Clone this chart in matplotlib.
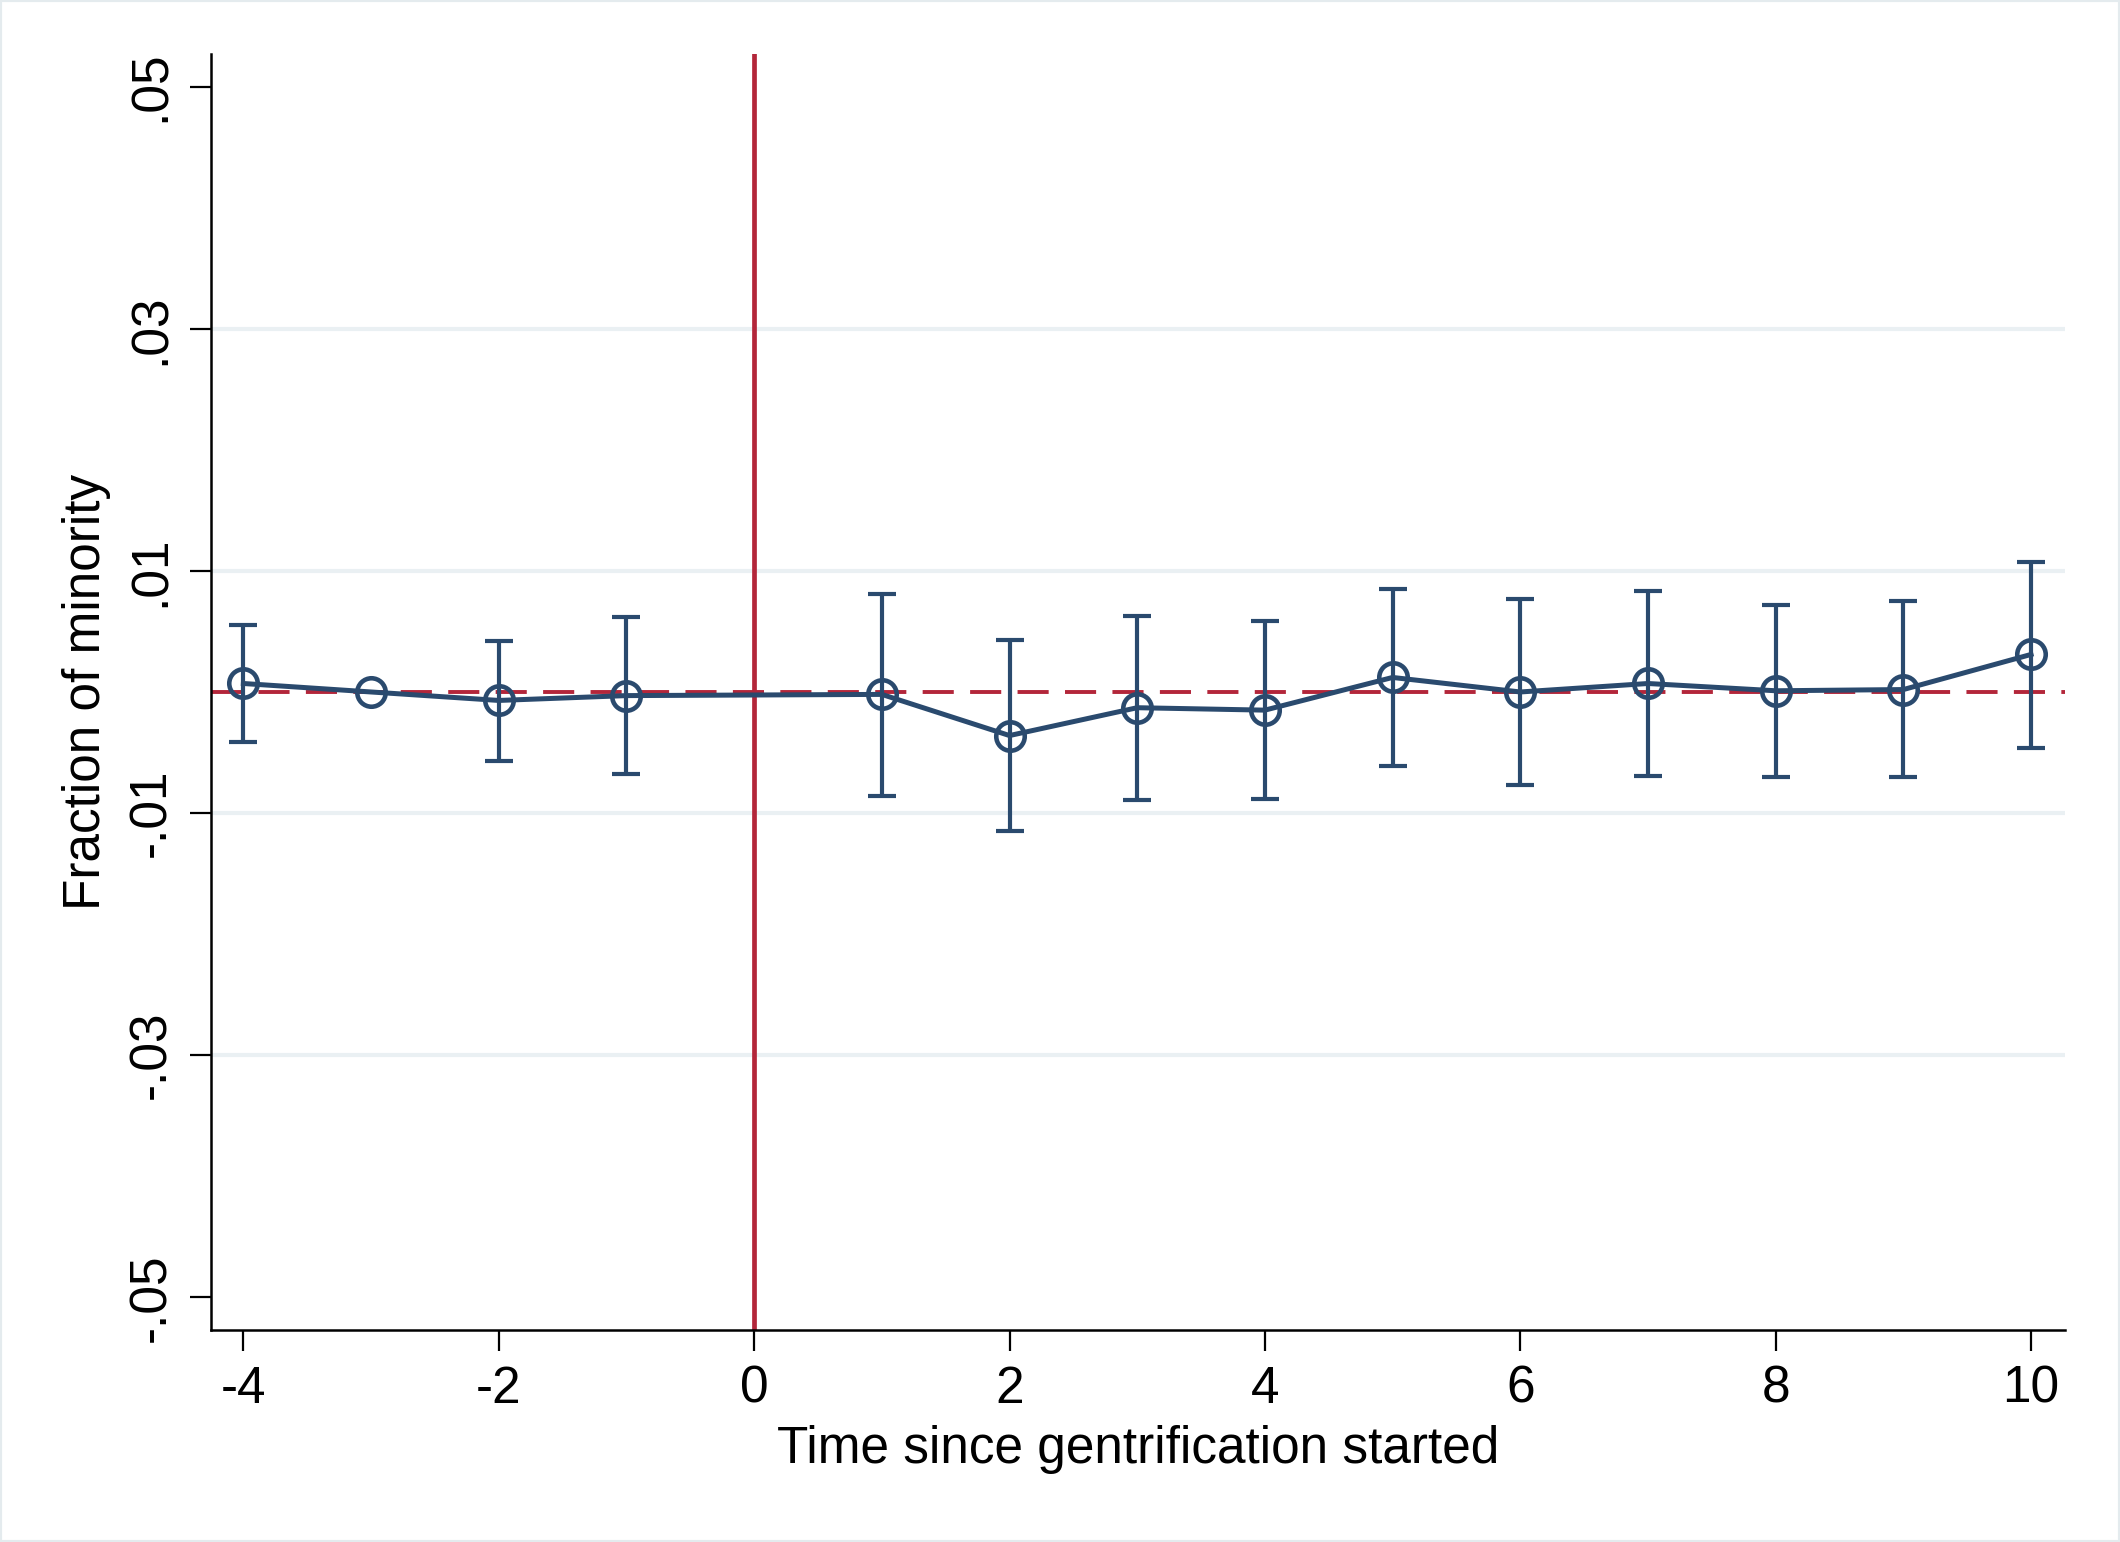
import numpy as np
import matplotlib
matplotlib.use("Agg")
import matplotlib.pyplot as plt
from matplotlib.patches import Rectangle

# event-study estimates
periods = [-4, -3, -2, -1, 1, 2, 3, 4, 5, 6, 7, 8, 9, 10]
coef = [0.0007, 0.0, -0.0007, -0.0003, -0.0002, -0.0036, -0.0013, -0.0015,
        0.0012, 0.0, 0.0007, 0.0001, 0.0002, 0.0031]
ci_low = [-0.0041, np.nan, -0.0057, -0.0068, -0.0086, -0.0115, -0.0089, -0.0088,
          -0.0061, -0.0077, -0.0069, -0.0070, -0.0070, -0.0046]
ci_high = [0.0055, np.nan, 0.0042, 0.0062, 0.0081, 0.0043, 0.0063, 0.0059,
           0.0085, 0.0077, 0.0083, 0.0072, 0.0075, 0.0107]

xticks = [-4, -2, 0, 2, 4, 6, 8, 10]
yticks = [-0.05, -0.03, -0.01, 0.01, 0.03, 0.05]
ytick_labels = ["-.05", "-.03", "-.01", ".01", ".03", ".05"]
grid_levels = [-0.03, -0.01, 0.01, 0.03]

NAVY = "#2a4a6e"
RED = "#b3263a"
GRID = "#eaf0f3"

plt.rcParams["font.family"] = ["Liberation Sans", "DejaVu Sans"]

fig = plt.figure(figsize=(21.2, 15.42), dpi=100)
fig.patches.append(Rectangle((0, 0), 1, 1, transform=fig.transFigure, fill=False,
                             edgecolor="#e4ebee", linewidth=3))
ax = fig.add_axes([0.0995, 0.1375, 0.8745, 0.8275])

for g in grid_levels:
    ax.axhline(g, color=GRID, linewidth=3, zorder=0)

ax.axhline(0, color=RED, linewidth=2.8, dashes=(8, 4.2), zorder=1)
ax.axvline(0, color=RED, linewidth=3.4, zorder=1.5)

x = np.array(periods, dtype=float)
y = np.array(coef)
lo = np.array(ci_low)
hi = np.array(ci_high)
has_ci = ~np.isnan(lo)

ax.errorbar(x[has_ci], y[has_ci], yerr=[y[has_ci] - lo[has_ci], hi[has_ci] - y[has_ci]],
            fmt="none", ecolor=NAVY, elinewidth=3.0, capsize=10, capthick=3.0, zorder=2)
ax.plot(x, y, color=NAVY, linewidth=3.6, marker="o", markersize=20.5,
        markerfacecolor="none", markeredgecolor=NAVY, markeredgewidth=3.3, zorder=4)

ax.set_xlim(-4.254, 10.265)
ax.set_ylim(-0.0527, 0.0527)
ax.set_xticks(xticks)
ax.set_xticklabels([str(t) for t in xticks])
ax.set_yticks(yticks)
ax.set_yticklabels(ytick_labels, rotation=90, va="center")

ax.tick_params(axis="both", labelsize=37, length=15, width=1.6, color="black", pad=10)
for side in ["top", "right"]:
    ax.spines[side].set_visible(False)
for side in ["left", "bottom"]:
    ax.spines[side].set_linewidth(1.8)

ax.set_xlabel("Time since gentrification started", fontsize=37, labelpad=8)
ax.set_ylabel("Fraction of minority", fontsize=37, labelpad=12)

fig.savefig("out.png", dpi=100, facecolor="white")
